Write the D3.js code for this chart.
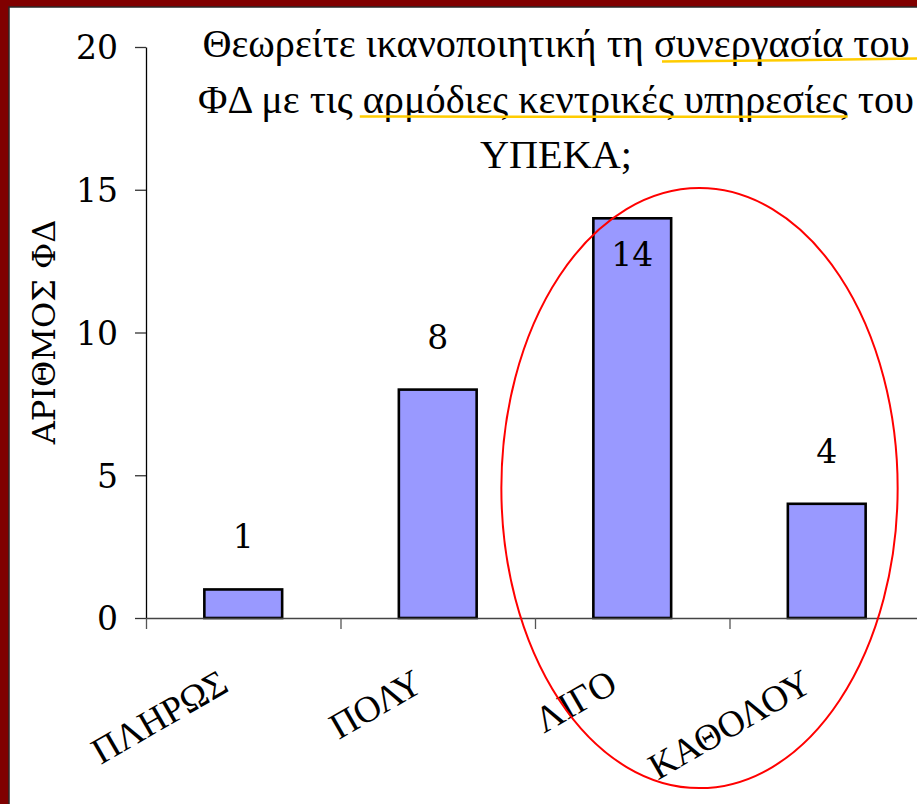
<!DOCTYPE html>
<html>
<head>
<meta charset="utf-8">
<script src="https://cdn.jsdelivr.net/npm/d3@7"></script>
<style>
  html, body { margin: 0; padding: 0; background: #800000; }
  svg { display: block; }
</style>
</head>
<body>
<svg id="chart" width="917" height="804"></svg>
<script>
// ---- data ----
const categories = ["ΠΛΗΡΩΣ", "ΠΟΛΥ", "ΛΙΓΟ", "ΚΑΘΟΛΟΥ"];
const values = [1, 8, 14, 4];
const yTicks = [0, 5, 10, 15, 20];
const titleLines = [
  [{t: "Θεωρείτε ικανοποιητική τη "}, {t: "συνεργασία του", u: true}],
  [{t: "ΦΔ με τις "}, {t: "αρμόδιες κεντρικές υπηρεσίες", u: true}, {t: " του"}],
  [{t: "ΥΠΕΚΑ;"}]
];
const yTitle = "ΑΡΙΘΜΟΣ ΦΔ";
const circledCategories = ["ΛΙΓΟ", "ΚΑΘΟΛΟΥ"];

// ---- layout ----
const W = 917, H = 804;
const plot = {left: 146, right: 924, top: 47, bottom: 618};
const serif = "'DejaVu Serif', serif";
const times = "'Liberation Serif', 'Times New Roman', serif";

const svg = d3.select("#chart");

// frame
svg.append("rect").attr("x", 0).attr("y", 0).attr("width", W).attr("height", H).attr("fill", "#800000");
svg.append("rect").attr("x", 9).attr("y", 7).attr("width", W).attr("height", H)
  .attr("fill", "#ffffff").attr("stroke", "#2a2a2a").attr("stroke-width", 1.5);

// scales
const x = d3.scaleBand().domain(categories).range([plot.left, plot.right])
  .paddingInner(0.6).paddingOuter(0.3);
const y = d3.scaleLinear().domain([0, 20]).range([plot.bottom, plot.top]);
const xEdges = d3.scaleLinear().domain([0, categories.length]).range([plot.left, plot.right]);

// y axis
const yAxis = svg.append("g").attr("transform", `translate(${plot.left},0)`)
  .call(d3.axisLeft(y).tickValues(yTicks).tickSize(11).tickSizeOuter(0).tickPadding(17));
yAxis.select(".domain").attr("stroke", "#000").attr("stroke-width", 1.3);
yAxis.selectAll(".tick line").attr("stroke", "#333").attr("stroke-width", 1.3);
yAxis.selectAll(".tick text").attr("font-family", serif).attr("font-size", 33).attr("fill", "#000")
  .attr("dy", "0.36em");

// bars
svg.append("g").selectAll("rect").data(values).join("rect")
  .attr("x", (d, i) => x(categories[i]))
  .attr("y", d => y(d))
  .attr("width", x.bandwidth())
  .attr("height", d => y(0) - y(d))
  .attr("fill", "#9999FF").attr("stroke", "#000").attr("stroke-width", 2.6);

// x axis
const xAxis = svg.append("g").attr("transform", `translate(0,${plot.bottom})`)
  .call(d3.axisBottom(xEdges).tickValues(d3.range(categories.length + 1)).tickSize(11)
    .tickSizeOuter(0).tickFormat(""));
xAxis.select(".domain").attr("stroke", "#444").attr("stroke-width", 1.3);
xAxis.selectAll(".tick line").attr("stroke", "#555").attr("stroke-width", 1.3);

// x labels
svg.append("g").selectAll("text").data(categories).join("text")
  .attr("transform", d => `translate(${x(d) + x.bandwidth() / 2 - 25},${plot.bottom + 51}) rotate(-30)`)
  .attr("text-anchor", "end").attr("dy", "0.66em")
  .attr("font-family", times).attr("font-size", 37).attr("fill", "#000")
  .text(d => d);

// data labels
const labelTopLimit = y(15);
svg.append("g").selectAll("text").data(values).join("text")
  .attr("x", (d, i) => x(categories[i]) + x.bandwidth() / 2)
  .attr("y", d => (y(d) - 41 < labelTopLimit) ? y(d) + 48 : y(d) - 41)
  .attr("text-anchor", "middle")
  .attr("font-family", serif).attr("font-size", 33).attr("fill", "#000")
  .text(d => d);

// y title
svg.append("text").attr("transform", `translate(55,332) rotate(-90)`)
  .attr("text-anchor", "middle").attr("font-family", serif).attr("font-size", 32).attr("fill", "#000")
  .text(yTitle);

// title
const title = svg.append("text").attr("text-anchor", "middle")
  .attr("font-family", times).attr("font-size", 30).attr("fill", "#000");
const lineNodes = [];
const underlined = [];
titleLines.forEach((parts, li) => {
  const line = title.append("tspan").attr("x", 556).attr("y", 57 + li * 55.5);
  lineNodes.push(line.node());
  parts.forEach(p => {
    const ts = line.append("tspan").text(p.t);
    if (p.u) underlined.push({node: ts.node(), li});
  });
});
// fit title font so the longest line spans the same width as the reference
const longest = d3.max(lineNodes, n => n.getComputedTextLength());
title.attr("font-size", 30 * 716 / longest);

// underlines (yellow highlighter strokes)
underlined.forEach(({node, li}) => {
  const n = node.getNumberOfChars();
  const s = node.getStartPositionOfChar(0);
  const e = node.getEndPositionOfChar(n - 1);
  const yb = 57 + li * 55.5 + 3;
  const x0 = s.x + (li === 0 ? 8 : -3), x1 = e.x + (li === 0 ? 10 : 0);
  const yL = li === 0 ? yb + 1.5 : yb + 1;
  const yR = li === 0 ? yb - 1.5 : yb + 1;
  svg.append("path")
    .attr("d", d3.line().curve(d3.curveBasis)([[x0, yL], [(x0 + x1) / 2, (yL + yR) / 2 + 0.5], [x1, yR]]))
    .attr("fill", "none").attr("stroke", "#FFCC00").attr("stroke-width", 2.5);
});

// red ellipse around selected categories
const c0 = x(circledCategories[0]), c1 = x(circledCategories[1]) + x.bandwidth();
svg.append("ellipse")
  .attr("cx", (c0 + c1) / 2 - 30).attr("cy", y(4.55))
  .attr("rx", (c1 - c0) / 2 + 62).attr("ry", 300)
  .attr("fill", "none").attr("stroke", "#FF0000").attr("stroke-width", 2);
</script>
</body>
</html>
